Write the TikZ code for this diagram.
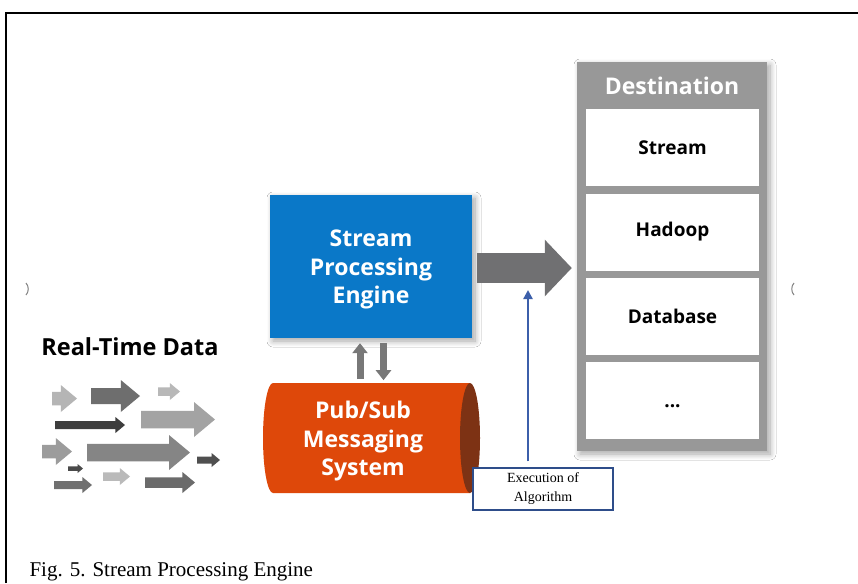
\documentclass[tikz,border=0pt]{standalone}
\usepackage{fontspec}
\setmainfont{Liberation Serif}
\newfontfamily\opensans{Open Sans}
\usetikzlibrary{arrows.meta,calc,shadows.blur}
\definecolor{engblue}{RGB}{10,120,200}
\definecolor{pubred}{RGB}{222,72,10}
\definecolor{pubcap}{RGB}{125,50,20}
\definecolor{destgray}{RGB}{152,152,152}
\definecolor{flowgray}{RGB}{112,112,114}
\definecolor{algblue}{RGB}{60,95,170}
\definecolor{algframe}{RGB}{46,77,138}
\tikzset{
  softshadow/.style={blur shadow={shadow blur steps=8,shadow xshift=3pt,shadow yshift=-3pt,shadow blur radius=6pt,shadow opacity=35}},
  bigtext/.style={text=white,align=center,font=\opensans\bfseries\fontsize{23}{28.5}\selectfont},
  destbox/.style={fill=white,minimum width=173pt,minimum height=77pt,inner sep=0pt,font=\opensans\bfseries\fontsize{19}{23}\selectfont},
  bigflow/.style={flowgray,line width=30pt,-{Triangle[width=55pt,length=27pt]}},
  smallflow/.style={black!53,line width=7pt,-{Triangle[width=15pt,length=10pt]}},
  algarrow/.style={algblue,line width=2.6pt,-{Triangle[width=9pt,length=9pt]}}
}
\begin{document}
\begin{tikzpicture}[x=1pt,y=-1pt]
    \useasboundingbox[fill=white] (0,0) rectangle (858,583);
    \draw[line width=2pt] (6,583) -- (6,13) -- (858,13);
    \draw[black!50,line width=1pt] (26,283) .. controls (29,286) and (29,292) .. (26,295);
    \draw[black!50,line width=1pt] (794,283) .. controls (791,286) and (791,292) .. (794,295);

    \node[fill=engblue,minimum width=202pt,minimum height=143pt,inner sep=0pt,softshadow,bigtext] (engine) at (371,266.5) {\\[-5pt]Stream\\Processing\\Engine};

    \node[fill=destgray,minimum width=190pt,minimum height=389pt,inner sep=0pt,softshadow] (dest) at (672,256.5) {};
    \node[text=white,font=\opensans\bfseries\fontsize{23}{28}\selectfont] (desthead) at (672,86) {Destination};
    \node[destbox] (stream) at (672.5,147.5) {Stream};
    \node[destbox] (hadoop) at (672.5,232) {Hadoop};
    \node[destbox] (database) at (672.5,316.5) {Database};
    \node[destbox] (more) at (672.5,400.5) {\vphantom{S}...};

    \fill[pubred] (273,383) -- (470,383) -- (470,493) -- (273,493) arc[start angle=90,end angle=270,x radius=10,y radius=55] -- cycle;
    \fill[pubcap] (470,438) ellipse[x radius=10,y radius=55];
    \node[bigtext] (pubsub) at (363,441.5) {Pub/Sub\\Messaging\\System};

    \draw[smallflow] ($(engine.south)+(-11,41)$) -- ($(engine.south)+(-11,5)$);
    \draw[smallflow] ($(engine.south)+(12.5,5)$) -- ($(engine.south)+(12.5,42)$);
    \draw[bigflow] ([xshift=5pt,yshift=-1.5pt]engine.east) -- ([xshift=-5pt,yshift=-1.5pt]engine.east -| dest.west);

    \node[draw=algframe,line width=1.2pt,fill=white,minimum width=140pt,minimum height=42pt,inner sep=0pt,align=center,font=\fontsize{14}{19}\selectfont] (exec) at (543,489) {Execution of\\Algorithm};
    \coordinate (algtip) at (528,290);
    \draw[algarrow] ([xshift=-15pt,yshift=6pt]exec.north) -- (algtip);

    \node[font=\opensans\bfseries\fontsize{23.5}{28}\selectfont] (realtime) at (130,347) {Real-Time Data};
    \foreach \xa/\xb/\ym/\hh/\shade in {52/77/398.5/27/29,91/140/396/32/57,158/180/391.5/17/28,55/125/425/16/76,141/215/419.5/35/36,42/72/451.5/27/39,87/190/452.5/35/48,197/220/460/14/69,68/83/468.5/9/71,103/130/476.5/17/27,54/92/485/16/56,145/195/482.5/21/58}
        \fill[black!\shade] (\xa,\ym-0.25*\hh) -- (\xb-0.6*\hh,\ym-0.25*\hh) -- (\xb-0.6*\hh,\ym-0.5*\hh) -- (\xb,\ym) -- (\xb-0.6*\hh,\ym+0.5*\hh) -- (\xb-0.6*\hh,\ym+0.25*\hh) -- (\xa,\ym+0.25*\hh) -- cycle;

    \node[anchor=west,font=\fontsize{21}{24}\selectfont] (caption) at (26,572) {Fig. 5. Stream Processing Engine};
\end{tikzpicture}
\end{document}
